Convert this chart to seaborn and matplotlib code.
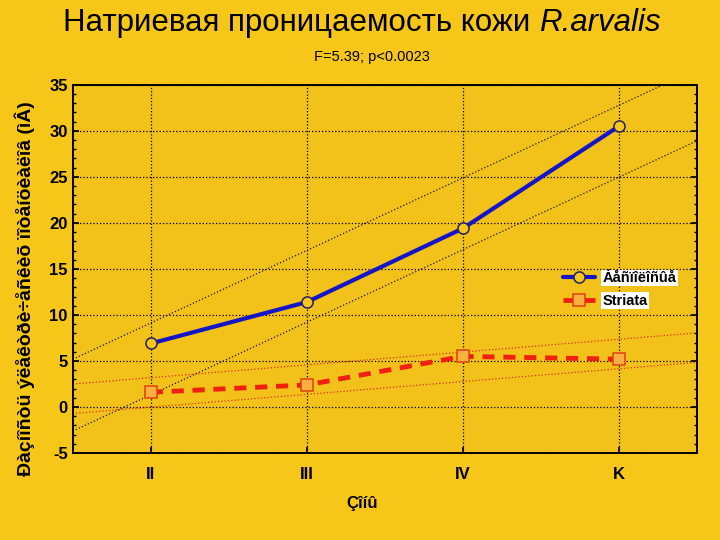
import numpy as np
import pandas as pd
import matplotlib
matplotlib.use("Agg")
import matplotlib.pyplot as plt
import seaborn as sns

# data
zones = ["II", "III", "IV", "K"]
plain_values = [6.9, 11.4, 19.4, 30.5]     # "Áåñïîëîñûå" (Бесполосые)
striata_values = [1.6, 2.4, 5.5, 5.2]
plain_band = 3.9      # half-width of the dotted bands
striata_band = 1.6

plain_label = "Áåñïîëîñûå"
striata_label = "Striata"
x_label = "Çîíû"
y_label = "Ðàçíîñòü ýëåêòðè÷åñêèõ ïîòåíöèàëîâ (ìÂ)"
title_main = "Натриевая проницаемость кожи "
title_species = "R.arvalis"
subtitle = "F=5.39; p<0.0023"

BG = "#F6C618"
AX_BG = "#F2C21A"

sns.set_theme(style="ticks")
plt.rcParams["font.family"] = ["Liberation Sans", "DejaVu Sans"]
plt.rcParams["axes.unicode_minus"] = False
plt.rcParams["text.color"] = "black"
plt.rcParams["xtick.color"] = "black"
plt.rcParams["ytick.color"] = "black"

pos = np.arange(len(zones))
df_plain = pd.DataFrame({"x": pos, "y": plain_values})
df_striata = pd.DataFrame({"x": pos, "y": striata_values})

fig = plt.figure(figsize=(7.2, 5.4), dpi=100, facecolor=BG)
ax = fig.add_axes([0.101, 0.161, 0.867, 0.682])
ax.set_facecolor(AX_BG)

# regression bands (dotted)
xx = np.array([-0.5, 3.5])
for vals, half, col in [(plain_values, plain_band, "#1a1a40"),
                        (striata_values, striata_band, "#e03010")]:
    k, b = np.polyfit(pos, vals, 1)
    yy = k * xx + b
    ax.plot(xx, yy + half, ls=":", lw=0.9, color=col, zorder=2)
    ax.plot(xx, yy - half, ls=":", lw=0.9, color=col, zorder=2)

sns.lineplot(data=df_plain, x="x", y="y", ax=ax, color="#1515c8", lw=3,
             marker="o", markersize=8, markerfacecolor=BG,
             markeredgecolor="#20206a", markeredgewidth=1.1,
             label=plain_label, zorder=4)
sns.lineplot(data=df_striata, x="x", y="y", ax=ax, color="#f02010", lw=3.5,
             marker="s", markersize=8, markerfacecolor="#f8b040",
             markeredgecolor="#e04010", markeredgewidth=1.1,
             label=striata_label, zorder=4)
ax.lines[-1].set_dashes([2.5, 1.8])

ax.set_xlim(-0.5, 3.5)
ax.set_ylim(-5, 35)
ax.set_xticks(pos)
ax.set_xticklabels(zones)
ax.set_yticks(np.arange(-5, 36, 5))
ax.set_yticks(np.arange(-5, 36, 1), minor=True)
ax.grid(True, which="major", color="black", ls=":", lw=0.9)
ax.tick_params(axis="both", which="major", labelsize=12, direction="in",
               length=4, color="black", right=True)
ax.tick_params(axis="y", which="minor", direction="in", length=2.5,
               right=True, left=True)
ax.tick_params(axis="x", pad=10)
for lab in ax.get_xticklabels() + ax.get_yticklabels():
    lab.set_fontweight("bold")
for sp in ax.spines.values():
    sp.set_visible(True)
    sp.set_color("black")
    sp.set_linewidth(1.4)
ax.set_xlabel("")
ax.set_ylabel("")

leg = ax.legend(loc="upper left", bbox_to_anchor=(0.765, 0.53), frameon=False,
                handlelength=2.2, fontsize=10.5, labelspacing=0.6,
                handletextpad=0.5)
for t in leg.get_texts():
    t.set_fontweight("bold")
    t.set_bbox(dict(facecolor="white", edgecolor="none", pad=1.0))

# title: plain part + italic species, centred together
t1 = fig.text(0, 0.957, title_main, ha="left", va="center", fontsize=22.5)
t2 = fig.text(0, 0.957, title_species, ha="left", va="center", fontsize=22.5,
              style="italic")
fig.canvas.draw()
r = fig.canvas.get_renderer()
w1 = t1.get_window_extent(r).width / fig.bbox.width
w2 = t2.get_window_extent(r).width / fig.bbox.width
x0 = 0.503 - (w1 + w2) / 2
t1.set_x(x0)
t2.set_x(x0 + w1)

fig.text(0.517, 0.895, subtitle, ha="center", va="center", fontsize=10.5)
fig.text(0.503, 0.068, x_label, ha="center", va="center", fontsize=12,
         fontweight="bold")
fig.text(0.035, 0.465, y_label, ha="center", va="center", rotation=90,
         fontsize=14, fontweight="bold")

fig.savefig("out.png", dpi=100, facecolor=BG)
